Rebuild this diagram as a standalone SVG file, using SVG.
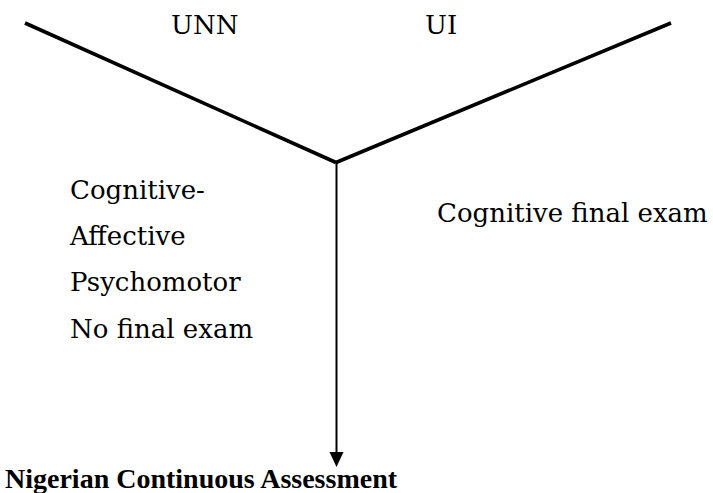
<svg xmlns="http://www.w3.org/2000/svg" width="713" height="493" viewBox="0 0 713 493">
<style>
.t{font-family:"DejaVu Serif","Liberation Serif",serif;font-size:26px;fill:#000}
.b{font-family:"Liberation Serif","DejaVu Serif",serif;font-weight:bold;font-size:28px}
.d{stroke:#000;stroke-width:3.6;fill:none;stroke-linecap:butt}
.v{stroke:#000;stroke-width:2;fill:none}
</style>
<rect width="713" height="493" fill="#fff"/>
<g id="connectors">
<line class="d" x1="25" y1="23" x2="336" y2="162.5"/>
<line class="d" x1="336" y1="162.5" x2="671" y2="23"/>
<line class="v" x1="336.5" y1="161" x2="336.5" y2="453"/>
<polygon points="329.5,452 343.5,452 336.5,467" fill="#000"/>
</g>
<g id="unn"><text class="t" x="171" y="34">UNN</text></g>
<g id="ui"><text class="t" x="425" y="34">UI</text></g>
<g id="unn-features">
<text class="t" x="70" y="199">Cognitive-</text>
<text class="t" x="70" y="245">Affective</text>
<text class="t" x="70" y="291">Psychomotor</text>
<text class="t" x="70" y="338">No final exam</text>
</g>
<g id="ui-features"><text class="t" x="437" y="222">Cognitive final exam</text></g>
<g id="nca"><text class="t b" x="5" y="488">Nigerian Continuous Assessment</text></g>
</svg>
